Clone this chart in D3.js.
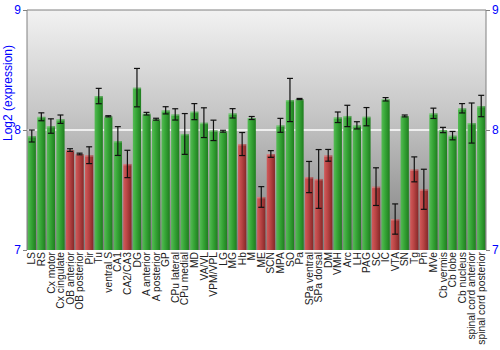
<!DOCTYPE html>
<html><head><meta charset="utf-8">
<script src="https://cdn.jsdelivr.net/npm/d3@7"></script>
<style>body{margin:0;background:#fff}svg{display:block}</style>
</head><body>
<svg id="c" width="500" height="350"></svg>
<script>
const categories = ["LS","RS","Cx motor","Cx cingulate","OB anterior","OB posterior","Pir","Tu","ventral S","CA1","CA2/CA3","DG","A anterior","A posterior","GP","CPu lateral","CPu medial","MD","VA/VL","VPM/VPL","LG","MG","Hb","M","ME","SCN","MPA","SO","Pa","SPa ventral","SPa dorsal","DM","VMH","Arc","LH","PAG","SC","IC","VTA","SN","Tg","Pn","MVe","Cb vermis","Cb lobe","Cb nucleus","spinal cord anterior","spinal cord posterior"];
const values = [7.95,8.11,8.033,8.09,7.833,7.80,7.79,8.283,8.114,7.908,7.717,8.353,8.136,8.09,8.164,8.13,7.967,8.153,8.061,7.997,7.99,8.139,7.883,8.10,7.442,7.80,8.039,8.25,8.258,7.608,7.592,7.789,8.106,8.117,8.039,8.111,7.528,8.256,7.258,8.117,7.672,7.506,8.139,8.0,7.953,8.181,8.058,8.2];
const errors = [0.05,0.033,0.06,0.035,0.011,0.007,0.07,0.064,0.005,0.12,0.114,0.16,0.011,0.008,0.03,0.047,0.17,0.067,0.124,0.085,0.008,0.039,0.096,0.0125,0.086,0.028,0.058,0.18,0.005,0.13,0.245,0.049,0.044,0.089,0.03,0.076,0.157,0.014,0.126,0.008,0.104,0.167,0.043,0.022,0.035,0.039,0.167,0.089];
const lowFlags = [0,0,0,0,1,1,1,0,0,0,1,0,0,0,0,0,0,0,0,0,0,0,1,0,1,1,0,0,0,1,1,1,0,0,0,0,1,0,1,0,1,1,0,0,0,0,0,0];
const yTicks = [7,8,9];

const svg = d3.select("#c");
const L = 27, R = 486, T = 10, B = 250;
const x = d3.scaleBand().domain(categories).range([L, R]).paddingInner(0.14).paddingOuter(0.07);
const y = d3.scaleLinear().domain([7, 9]).range([B, T]);

const defs = svg.append("defs");
const bg = defs.append("linearGradient").attr("id","bg").attr("x1",0).attr("y1",0).attr("x2",0).attr("y2",1);
bg.append("stop").attr("offset","0%").attr("stop-color","#f2f2f2");
bg.append("stop").attr("offset","45%").attr("stop-color","#c4c4c4");
bg.append("stop").attr("offset","100%").attr("stop-color","#7e7e7e");
function barGrad(id, c1, c2, c3){
  const g = defs.append("linearGradient").attr("id",id).attr("x1",0).attr("y1",0).attr("x2",1).attr("y2",0);
  g.append("stop").attr("offset","0%").attr("stop-color",c1);
  g.append("stop").attr("offset","45%").attr("stop-color",c2);
  g.append("stop").attr("offset","100%").attr("stop-color",c3);
}
barGrad("gg","#55bb55","#36a536","#1f7d1f");
barGrad("rg","#d25a5a","#b84444","#862828");

svg.append("rect").attr("x",L).attr("y",T).attr("width",R-L).attr("height",B-T).attr("fill","url(#bg)");

svg.append("line").attr("x1",L).attr("x2",R).attr("y1",y(8)).attr("y2",y(8)).attr("stroke","#fff").attr("stroke-width",1.5);

svg.selectAll("rect.bar").data(categories).enter().append("rect").attr("class","bar")
  .attr("x", d => x(d)).attr("width", x.bandwidth())
  .attr("y", (d,i) => y(values[i])).attr("height", (d,i) => B - y(values[i]))
  .attr("fill", (d,i) => lowFlags[i] ? "url(#rg)" : "url(#gg)");
svg.selectAll("rect.hl").data(categories).enter().append("rect").attr("class","hl")
  .attr("x", d => x(d)).attr("width", x.bandwidth())
  .attr("y", (d,i) => y(values[i])).attr("height", 1.5)
  .attr("fill", "#fff").attr("opacity",0.25);

const eg = svg.append("g").attr("stroke","#111").attr("stroke-width",1.2);
categories.forEach((d,i) => {
  const cx = x(d) + x.bandwidth()/2;
  const y1 = Math.max(T, y(values[i]+errors[i])), y2 = y(values[i]-errors[i]);
  eg.append("line").attr("x1",cx).attr("x2",cx).attr("y1",y1).attr("y2",y2);
  if (y(values[i]+errors[i]) >= T) eg.append("line").attr("x1",cx-3).attr("x2",cx+3).attr("y1",y1).attr("y2",y1);
  eg.append("line").attr("x1",cx-3).attr("x2",cx+3).attr("y1",y2).attr("y2",y2);
});

svg.append("path").attr("d",`M${L},${B}V${T}H${R}V${B}`).attr("fill","none").attr("stroke","#808080").attr("stroke-width",1);

const la = svg.append("g").attr("transform",`translate(${L},0)`).call(d3.axisLeft(y).tickValues(yTicks).tickSize(4).tickPadding(2).tickFormat(d3.format("d")));
const ra = svg.append("g").attr("transform",`translate(${R},0)`).call(d3.axisRight(y).tickValues(yTicks).tickSize(4).tickPadding(2).tickFormat(d3.format("d")));
[la,ra].forEach(a => {
  a.select(".domain").remove();
  a.selectAll("line").attr("stroke","#808080");
  a.selectAll("text").attr("fill","#0000ff").attr("font-family","Liberation Sans, Arial, sans-serif").attr("font-size",12);
});

const xa = svg.append("g").attr("transform",`translate(0,${B})`).call(d3.axisBottom(x).tickSize(0).tickPadding(0));
xa.select(".domain").remove();
xa.selectAll("text").attr("font-family","Liberation Sans, Arial, sans-serif").attr("font-size",10.3).attr("fill","#222")
  .attr("transform","rotate(-90)").attr("text-anchor","end").attr("dx","-2").attr("dy","0.35em").attr("x",0).attr("y",0);

svg.append("text").attr("transform","translate(12,93) rotate(-90)").attr("text-anchor","middle")
  .attr("font-family","Liberation Sans, Arial, sans-serif").attr("font-size",12).attr("fill","#0000ff").text("Log2 (expression)");
</script>
</body></html>
